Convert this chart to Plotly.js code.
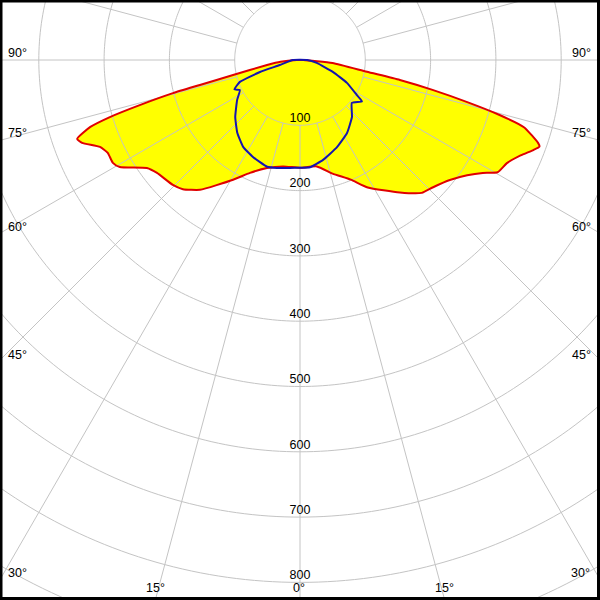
<!DOCTYPE html>
<html><head><meta charset="utf-8">
<script src="https://cdn.plot.ly/plotly-3.0.1.min.js"></script>
<style>
html,body{margin:0;padding:0;width:600px;height:600px;overflow:hidden;background:#fff;}
#wrap{position:relative;width:600px;height:600px;overflow:hidden;}
#chart{position:absolute;left:-353px;top:-593px;width:1306px;height:1306px;}
</style></head><body>
<div id="wrap"><div id="chart"></div></div>
<script>
// C0-C180 plane (red outline, yellow fill): gamma angle (deg, 0 = nadir) and intensity (cd)
const redAngles = [-90,-85,-81.4,-77.4,-76,-75.4,-74.3,-73.3,-72.3,-70.5,-69.2,-66.5,-64.2,-61.2,-59.3,-54.8,-51.7,-45.5,-42.2,-37.6,-29.2,-23.9,-17,-9,0,9,16,23,28,37,42.5,46.3,51.3,55.4,58.3,60.4,63.5,66.6,68.9,70.1,70.8,73.3,74.6,75.9,77.3,78.7,80,84.8,90];
const redValues = [5,30,51,105,158,201,255,304,337,362,357,334,327,327,321,287,279,273,267,251,210,189,173,165,165,165,181,199,221,254,276,282,294,311,329,348,354,368,383,390,386,358,317,263,208,156,104,50,5];
// C90-C270 plane (blue outline)
const blueAngles = [-90,-76,-73.3,-70,-65.9,-63.4,-57.6,-48.7,-40.8,-33.2,-25.9,-17.1,-12,-5.3,0,5.3,13,23,32.8,42.4,50.4,56.3,58.4,64,70,80,90];
const blueValues = [11,32,64,98,110,103,114,132,147,159,165,171,169,166,165,165,157,145,133,118,103,114,102,80,54,26,11];
// grid
const ringValues = [100,200,300,400,500,600,700,800,900,1000];
const ringLabels = ['100','200','300','400','500','600','700','800'];
const ringLabelValues = [100,200,300,400,500,600,700,800];
const spokeAngles = [0,15,30,45,60,75,90,105,120,135,150,165,180,195,210,225,240,255,270,285,300,315,330,345];
const angleLabels = ['90°','75°','60°','45°','30°','15°','0°','15°','30°','45°','60°','75°','90°'];

// ---- layout helpers (pixel positions in the 600x600 view) ----
const W = 1306, OX = 353, OY = 593;
const fx = px => (px + OX) / W;
const fy = py => 1 - (py + OY) / W;
const anglePos = [[18,53],[18,133],[18,227],[18,355],[18,573],[155,588],[299,588],[444,588],[580,573],[581,355],[581,227],[581,133],[581,53]];

// build grid traces
let ringR = [], ringT = [];
ringValues.forEach(v => {
  for (let t = 0; t <= 360; t += 1) { ringR.push(v); ringT.push(t); }
  ringR.push(null); ringT.push(null);
});
let spokeR = [], spokeT = [];
spokeAngles.forEach(a => {
  spokeR.push(ringValues[0], ringValues[ringValues.length-1], null);
  spokeT.push(a, a, null);
});

const closeR = redValues.concat([redValues[0]]);
const closeT = redAngles.concat([redAngles[0]]);
const closeBR = blueValues.concat([blueValues[0]]);
const closeBT = blueAngles.concat([blueAngles[0]]);

const gridColor = '#c4c4c4';
const lblFont = {family:'Liberation Sans, Arial, sans-serif', size:12.5, color:'#000'};
const traces = [
  {type:'scatterpolar', r: closeR, theta: closeT, mode:'lines', fill:'toself', fillcolor:'#ffff00',
   line:{color:'rgba(0,0,0,0)', width:0, shape:'spline', smoothing:0.5}, hoverinfo:'skip'},
  {type:'scatterpolar', r: ringR, theta: ringT, mode:'lines', line:{color:gridColor, width:1}, hoverinfo:'skip'},
  {type:'scatterpolar', r: spokeR, theta: spokeT, mode:'lines', line:{color:gridColor, width:1}, hoverinfo:'skip'},
  {type:'scatterpolar', r: closeR, theta: closeT, mode:'lines', line:{color:'#e00000', width:2, shape:'spline', smoothing:0.5}, hoverinfo:'skip'},
  {type:'scatterpolar', r: closeBR, theta: closeBT, mode:'lines', line:{color:'#1414b0', width:2, shape:'spline', smoothing:0.4}, hoverinfo:'skip'},
  {type:'scatterpolar', r: ringLabelValues, theta: ringLabelValues.map(()=>0), mode:'text', text: ringLabels,
   textposition:'top center', textfont: lblFont, hoverinfo:'skip'}
];

const annotations = angleLabels.map((t,i) => ({
  xref:'paper', yref:'paper', x: fx(anglePos[i][0]), y: fy(anglePos[i][1]),
  xanchor:'center', yanchor:'middle', showarrow:false, text:t, font: lblFont
}));

const layout = {
  width: W, height: W,
  margin:{l:0,r:0,t:0,b:0,pad:0},
  paper_bgcolor:'#fff',
  showlegend:false,
  polar:{
    domain:{x:[0,1], y:[0,1]},
    bgcolor:'#fff',
    radialaxis:{range:[0,1000], showgrid:false, showline:false, showticklabels:false, ticks:''},
    angularaxis:{rotation:-90, direction:'counterclockwise', showgrid:false, showline:false, showticklabels:false, ticks:''}
  },
  annotations: annotations,
  shapes:[{type:'rect', xref:'paper', yref:'paper', x0: fx(1), y0: fy(1), x1: fx(598.5), y1: fy(598.5),
           line:{color:'#000', width:3}, fillcolor:'rgba(0,0,0,0)'}]
};

Plotly.newPlot('chart', traces, layout, {staticPlot:true, displayModeBar:false});
</script>
</body></html>
